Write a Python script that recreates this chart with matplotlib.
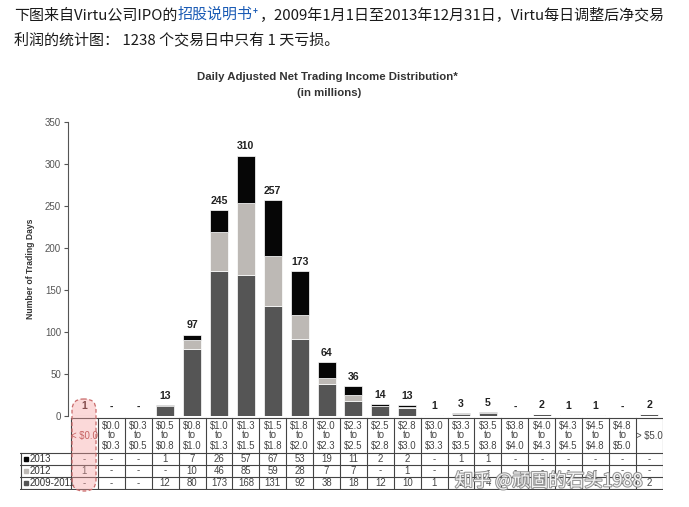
import matplotlib
matplotlib.use("Agg")
import matplotlib.pyplot as plt
import numpy as np
from matplotlib.patches import FancyBboxPatch
import matplotlib.patheffects as pe

plt.rcParams['font.family'] = ['Liberation Sans', 'DejaVu Sans']

# ---------------- data ----------------
categories = ["< $0.0", "$0.0\nto\n$0.3", "$0.3\nto\n$0.5", "$0.5\nto\n$0.8", "$0.8\nto\n$1.0",
              "$1.0\nto\n$1.3", "$1.3\nto\n$1.5", "$1.5\nto\n$1.8", "$1.8\nto\n$2.0", "$2.0\nto\n$2.3",
              "$2.3\nto\n$2.5", "$2.5\nto\n$2.8", "$2.8\nto\n$3.0", "$3.0\nto\n$3.3", "$3.3\nto\n$3.5",
              "$3.5\nto\n$3.8", "$3.8\nto\n$4.0", "$4.0\nto\n$4.3", "$4.3\nto\n$4.5", "$4.5\nto\n$4.8",
              "$4.8\nto\n$5.0", "> $5.0"]
series_names = ["2013", "2012", "2009-2011"]
v2013 = [0, 0, 0, 1, 7, 26, 57, 67, 53, 19, 11, 2, 2, 0, 1, 1, 0, 0, 0, 0, 0, 0]
v2012 = [1, 0, 0, 0, 10, 46, 85, 59, 28, 7, 7, 0, 1, 0, 0, 0, 0, 0, 0, 0, 0, 0]
v0911 = [0, 0, 0, 12, 80, 173, 168, 131, 92, 38, 18, 12, 10, 1, 2, 4, 0, 2, 1, 1, 0, 2]
yticks = [0, 50, 100, 150, 200, 250, 300, 350]

title = "Daily Adjusted Net Trading Income Distribution*"
subtitle = "(in millions)"
ylabel = "Number of Trading Days"
intro1_a = "下图来自Virtu公司IPO的"
intro1_b = "招股说明书"
intro1_c = "+"
intro1_d = "，2009年1月1日至2013年12月31日，Virtu每日调整后净交易"
intro2 = "利润的统计图： 1238 个交易日中只有 1 天亏损。"
watermark = "知乎 @顽固的石头1988"

# ---------------- layout ----------------
W, H = 689, 507
fig = plt.figure(figsize=(W / 100, H / 100), dpi=100)
fig.patch.set_facecolor("white")

colw = 26.9
x0 = 71.0
def xl(px):
    return (px - x0) / colw - 0.5

c2013, c2012, c0911 = "#060606", "#bdb9b5", "#555555"

n = len(categories)
x = np.arange(n)
a13 = np.array(v2013); a12 = np.array(v2012); a09 = np.array(v0911)
tot = a13 + a12 + a09

ax = fig.add_axes([68 / W, 1 - 416 / H, (663 - 68) / W, (416 - 122) / H])
ax.set_xlim(xl(68), xl(663))
ax.set_ylim(0, 350)
bw = 0.67
ax.bar(x, a09, bw, color=c0911, edgecolor="white", linewidth=0.5)
ax.bar(x, a12, bw, bottom=a09, color=c2012, edgecolor="white", linewidth=0.5)
ax.bar(x, a13, bw, bottom=a09 + a12, color=c2013, edgecolor="white", linewidth=0.5)
for i in range(n):
    lab = str(tot[i]) if tot[i] > 0 else "-"
    col = "#3a1818" if i == 0 else "#222222"
    ax.annotate(lab, (x[i], tot[i]), xytext=(0, 3), textcoords="offset points",
                ha="center", va="bottom", fontsize=7.6, fontweight="bold", color=col)
for s in ["top", "right", "bottom"]:
    ax.spines[s].set_visible(False)
ax.spines["left"].set_color("#555555")
ax.spines["left"].set_linewidth(0.8)
ax.set_xticks([])
ax.set_yticks(yticks)
ax.tick_params(axis="y", labelsize=7, colors="#555555", length=3, width=0.8, pad=2)
ax.set_ylabel(ylabel, fontsize=6.2, fontweight="bold", color="#333333", labelpad=7)

# ---------------- table ----------------
tab = fig.add_axes([20 / W, 1 - 490 / H, (663 - 20) / W, (490 - 416) / H])
tab.set_xlim(xl(20), xl(663))
tab.set_ylim(490, 416)
tab.axis("off")
lc, lw = "#444444", 0.8
tab.plot([-0.5, n - 0.5], [417.5, 417.5], color=lc, lw=lw)
for yy in [453, 464.5, 476.5, 489]:
    tab.plot([xl(20), n - 0.5], [yy, yy], color=lc, lw=lw)
for i in range(n + 1):
    tab.plot([i - 0.5, i - 0.5], [417.5, 489], color=lc, lw=lw)
tab.plot([xl(20.5), xl(20.5)], [453, 489], color=lc, lw=lw)
for i, c in enumerate(categories):
    txt = c.replace("$", r"\$")
    col = "#a83a3a" if i == 0 else "#444444"
    tab.text(i, 435.5, txt, ha="center", va="center", fontsize=6.9, color=col, linespacing=1.0)
rows_y = [458.8, 470.5, 482.8]
for name, vals, col, yy in zip(series_names, [a13, a12, a09], [c2013, c2012, c0911], rows_y):
    tab.plot([xl(26)], [yy], marker="s", ms=3.5, color=col, mec=col)
    tab.text(xl(30), yy, name, ha="left", va="center", fontsize=7, color="#333333")
    for i, v in enumerate(vals):
        tab.text(i, yy, str(v) if v > 0 else "-", ha="center", va="center",
                 fontsize=6.9, color="#444444")

# ---------------- overlay ----------------
ov = fig.add_axes([0, 0, 1, 1], zorder=5)
ov.set_xlim(0, W)
ov.set_ylim(H, 0)
ov.axis("off")
ov.patch.set_alpha(0)
hl = FancyBboxPatch((72, 399), 24, 92, boxstyle="round,pad=0,rounding_size=11",
                    facecolor="#f5a0a0", alpha=0.4, edgecolor="none")
ov.add_patch(hl)
hl2 = FancyBboxPatch((72, 399), 24, 92, boxstyle="round,pad=0,rounding_size=11",
                     facecolor="none", edgecolor="#c96a6a", linestyle=(0, (3, 2)), linewidth=0.9)
ov.add_patch(hl2)

ov.text(327, 77, title, ha="center", va="center", fontsize=8.2, fontweight="bold", color="#333333")
ov.text(329, 93, subtitle, ha="center", va="center", fontsize=8.2, fontweight="bold", color="#333333")

cjk = ['Noto Sans CJK SC', 'DejaVu Sans']
fs = 10.8
t1 = ov.text(14, 15, intro1_a, ha="left", va="center", fontsize=fs, family=cjk, color="#1a1a1a")
t2 = ov.annotate(intro1_b, xy=(1, 0), xycoords=t1, ha="left", va="bottom",
                 fontsize=fs, family=cjk, color="#1a5bb5")
t3 = ov.annotate(intro1_c, xy=(1, 0.45), xycoords=t2, ha="left", va="bottom",
                 fontsize=6, family=cjk, color="#1a5bb5", fontweight="bold")
t4 = ov.annotate(intro1_d, xy=(1, 0), xycoords=t2, xytext=(5, 0), textcoords="offset points",
                 ha="left", va="bottom", fontsize=fs, family=cjk, color="#1a1a1a")
ov.text(14, 40, intro2, ha="left", va="center", fontsize=fs, family=cjk, color="#1a1a1a")

ov.text(455, 481, watermark, ha="left", va="center", fontsize=13, family=cjk,
        color="white", alpha=0.9,
        path_effects=[pe.withStroke(linewidth=1.5, foreground="#8a8a8a")])

fig.savefig("out.png", dpi=100, facecolor="white")
